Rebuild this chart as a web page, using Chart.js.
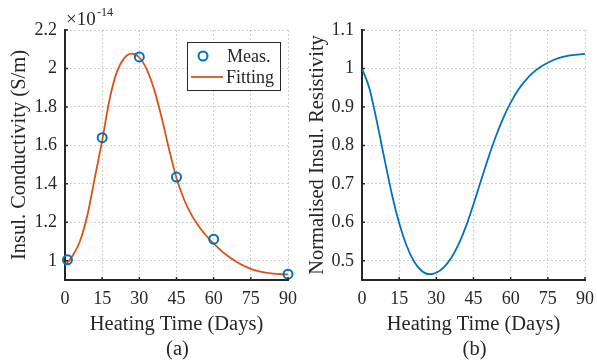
<!DOCTYPE html>
<html>
<head>
<meta charset="utf-8">
<script src="https://cdn.jsdelivr.net/npm/chart.js@4.4.1/dist/chart.umd.min.js"></script>
<style>
    html, body { margin: 0; padding: 0; background: #fff; }
    #wrap { position: relative; width: 597px; height: 362px; }
    canvas { position: absolute; top: 0; }
</style>
</head>
<body>
<div id="wrap">
    <canvas id="chart-a" width="300" height="362" style="left:0"></canvas>
    <canvas id="chart-b" width="297" height="362" style="left:300px"></canvas>
</div>
<script>
// Heating time axis (days)
const dayTicks = [0, 15, 30, 45, 60, 75, 90];

// (a) measured conductivity, x1e-14 S/m
const measDays = [1, 15, 30, 45, 60, 90];
const measCond = [1.005, 1.64, 2.06, 1.435, 1.112, 0.93];

// (a) fitted curve
const fitDays = [0, 3, 6, 9, 12, 15, 18, 21, 24, 27, 30, 33, 36, 39, 42, 45,
                 48, 51, 54, 57, 60, 63, 66, 69, 72, 75, 78, 81, 84, 87, 90];
const fitCond = [0.975, 1.025, 1.10, 1.235, 1.43, 1.625, 1.84, 1.985, 2.055, 2.077, 2.057,
                 1.995, 1.89, 1.745, 1.58, 1.43, 1.32, 1.24, 1.18, 1.13, 1.09,
                 1.053, 1.022, 0.996, 0.975, 0.958, 0.946, 0.938, 0.933, 0.930, 0.929];
const condTicks = [1, 1.2, 1.4, 1.6, 1.8, 2, 2.2];

// (b) normalised resistivity
const resDays = fitDays;
const resValues = [1.0, 0.948, 0.862, 0.767, 0.675, 0.598, 0.539, 0.498, 0.474, 0.465, 0.469,
                   0.483, 0.507, 0.543, 0.590, 0.647, 0.708, 0.768, 0.823, 0.871, 0.911,
                   0.944, 0.969, 0.989, 1.004, 1.015, 1.024, 1.030, 1.034, 1.036, 1.038];
const resTicks = [0.5, 0.6, 0.7, 0.8, 0.9, 1, 1.1];

const BLUE = '#0072BD';
const ORANGE = '#D95319';
const INK = '#262626';
const SERIF = '"Liberation Serif", "DejaVu Serif", serif';

function toPoints(xs, ys) {
    return xs.map((x, i) => ({ x: x, y: ys[i] }));
}

// draws the labels, inner tick marks and the legend that MATLAB style needs
function decorPlugin(cfg) {
    return {
        id: 'decor',
        afterDraw(chart) {
            const ctx = chart.ctx;
            const area = chart.chartArea;
            const xs = chart.scales.x;
            const ys = chart.scales.y;
            ctx.save();

            // inner tick marks
            ctx.strokeStyle = INK;
            ctx.lineWidth = 1.5;
            ctx.beginPath();
            xs.ticks.forEach(t => {
                const px = xs.getPixelForValue(t.value);
                ctx.moveTo(px, area.bottom);
                ctx.lineTo(px, area.bottom - 3);
            });
            ys.ticks.forEach(t => {
                const py = ys.getPixelForValue(t.value);
                ctx.moveTo(area.left, py);
                ctx.lineTo(area.left + 3, py);
            });
            ctx.stroke();

            ctx.fillStyle = INK;
            ctx.textAlign = 'center';
            ctx.textBaseline = 'middle';
            const midX = (area.left + area.right) / 2;

            ctx.font = '20.5px ' + SERIF;
            ctx.fillText('Heating Time (Days)', midX, 325);
            ctx.fillText(cfg.tag, midX + 1, 350);

            ctx.save();
            ctx.translate(cfg.titleX, (area.top + area.bottom) / 2);
            ctx.rotate(-Math.PI / 2);
            ctx.fillText(cfg.yTitle, 0, 0);
            ctx.restore();

            if (cfg.exponent) {
                ctx.textAlign = 'left';
                ctx.textBaseline = 'alphabetic';
                ctx.font = '19px ' + SERIF;
                ctx.fillText('\u00d710', area.left + 1, 25);
                ctx.font = '12px ' + SERIF;
                ctx.fillText('-14', area.left + 32, 16);
            }

            if (cfg.legend) {
                const lx = 187, ly = 42, lw = 93, lh = 48;
                ctx.fillStyle = '#fff';
                ctx.fillRect(lx, ly, lw, lh);
                ctx.strokeStyle = INK;
                ctx.lineWidth = 1;
                ctx.strokeRect(lx + 0.5, ly + 0.5, lw, lh);

                ctx.strokeStyle = BLUE;
                ctx.lineWidth = 2;
                ctx.beginPath();
                ctx.arc(203, 56, 4.5, 0, Math.PI * 2);
                ctx.stroke();

                ctx.strokeStyle = ORANGE;
                ctx.lineWidth = 1.8;
                ctx.beginPath();
                ctx.moveTo(191, 77);
                ctx.lineTo(223, 77);
                ctx.stroke();

                ctx.fillStyle = INK;
                ctx.font = '18px ' + SERIF;
                ctx.textAlign = 'left';
                ctx.textBaseline = 'middle';
                ctx.fillText('Meas.', 227, 57);
                ctx.fillText('Fitting', 226, 78);
            }
            ctx.restore();
        }
    };
}

function makeOptions(yMin, yMax, yTicks, yWidth, padRight) {
    return {
        responsive: false,
        animation: false,
        layout: { padding: { top: 30, right: padRight, left: 0, bottom: 0 } },
        plugins: { legend: { display: false }, tooltip: { enabled: false } },
        scales: {
            x: {
                type: 'linear',
                min: 0,
                max: 90,
                afterBuildTicks: scale => { scale.ticks = dayTicks.map(v => ({ value: v })); },
                afterFit: scale => {
                    scale.height = 82;
                    scale.paddingLeft = 0;
                    scale.paddingRight = 0;
                },
                ticks: {
                    color: INK,
                    padding: 8,
                    maxRotation: 0,
                    font: { family: SERIF, size: 18 }
                },
                grid: { color: 'rgba(0,0,0,0.18)', drawTicks: false },
                border: { display: true, color: INK, width: 2, dash: [2, 2] }
            },
            y: {
                type: 'linear',
                min: yMin,
                max: yMax,
                afterBuildTicks: scale => { scale.ticks = yTicks.map(v => ({ value: v })); },
                afterFit: scale => {
                    scale.width = yWidth;
                    scale.paddingTop = 0;
                    scale.paddingBottom = 0;
                },
                ticks: {
                    color: INK,
                    padding: 8,
                    font: { family: SERIF, size: 18 },
                    callback: v => String(Math.round(v * 10) / 10)
                },
                grid: { color: 'rgba(0,0,0,0.18)', drawTicks: false },
                border: { display: true, color: INK, width: 2, dash: [2, 2] }
            }
        }
    };
}

new Chart(document.getElementById('chart-a'), {
    type: 'line',
    data: {
        datasets: [
            {
                label: 'Meas.',
                data: toPoints(measDays, measCond),
                showLine: false,
                pointStyle: 'circle',
                pointRadius: 4.5,
                pointBorderWidth: 2,
                pointBorderColor: BLUE,
                pointBackgroundColor: 'rgba(0,0,0,0)',
                clip: false
            },
            {
                label: 'Fitting',
                data: toPoints(fitDays, fitCond),
                borderColor: ORANGE,
                borderWidth: 1.8,
                pointRadius: 0,
                cubicInterpolationMode: 'monotone',
                fill: false
            }
        ]
    },
    options: makeOptions(0.9, 2.2, condTicks, 65, 12),
    plugins: [decorPlugin({
        tag: '(a)',
        yTitle: 'Insul. Conductivity (S/m)',
        titleX: 20,
        exponent: true,
        legend: true
    })]
});

new Chart(document.getElementById('chart-b'), {
    type: 'line',
    data: {
        datasets: [{
            label: 'Normalised resistivity',
            data: toPoints(resDays, resValues),
            borderColor: BLUE,
            borderWidth: 1.8,
            pointRadius: 0,
            cubicInterpolationMode: 'monotone',
            fill: false
        }]
    },
    options: makeOptions(0.45, 1.1, resTicks, 62, 12),
    plugins: [decorPlugin({
        tag: '(b)',
        yTitle: 'Normalised Insul. Resistivity',
        titleX: 18,
        exponent: false,
        legend: false
    })]
});
</script>
</body>
</html>
